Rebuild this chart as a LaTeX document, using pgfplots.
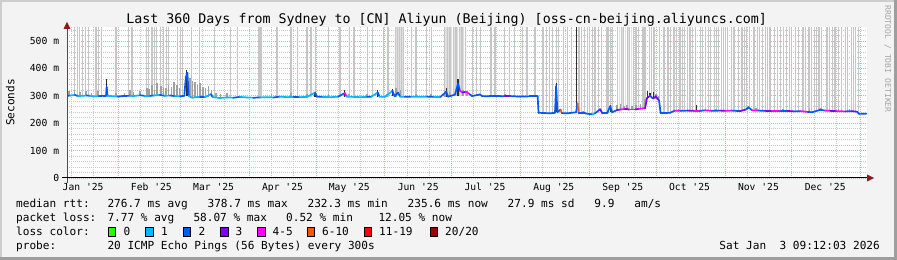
\documentclass[border=0pt]{standalone}
\usepackage{pgfplots}
\pgfplotsset{compat=1.18}
\usepackage{pgfplotstable}
\usepackage{fontspec}
\setmainfont{DejaVu Sans Mono}
\definecolor{bgc}{HTML}{F3F3F3}
\definecolor{brdlight}{HTML}{CDCDCD}
\definecolor{brddark}{HTML}{9E9E9E}
\definecolor{gridc}{HTML}{C8C8C8}
\definecolor{mgridc}{HTML}{F2A0A0}
\definecolor{smokelight}{HTML}{C6C6C6}
\definecolor{smokemid}{HTML}{A0A0A0}
\definecolor{smokedark}{HTML}{303030}
\definecolor{arrowc}{HTML}{8E1B1B}
\definecolor{lc0}{HTML}{26FF00}
\definecolor{lc1}{HTML}{00B8FF}
\definecolor{lc2}{HTML}{0059FF}
\definecolor{lc3}{HTML}{7E00FF}
\definecolor{lc4}{HTML}{FF00FF}
\definecolor{lc5}{HTML}{FF5500}
\definecolor{lc6}{HTML}{FF0000}
\definecolor{lc7}{HTML}{A10000}
\pgfplotsset{colormap={loss}{rgb255=(0,184,255) rgb255=(0,89,255) rgb255=(126,0,255) rgb255=(255,0,255) rgb255=(255,85,0)}}
\newcommand\ticksz{\fontsize{9.7bp}{11bp}\selectfont}
\newcommand\legsz{\fontsize{11.1bp}{13bp}\selectfont}
\newcommand\titlesz{\fontsize{13.3bp}{15bp}\selectfont}
\newcommand\rrdsz{\fontsize{8.1bp}{9bp}\selectfont}

% median rtt (ms) per day since 1 Jan 2025; c = loss class (0:1, 1:2, 2:3, 3:4-5, 4:6-10)
\pgfplotstableread{
x y c
8.1 300 1
9.5 301 0
11.7 303 1
13.0 299 0
15.0 300 0
17.0 301 1
18.4 300 0
20.0 298 0
22.4 299 1
24.5 300 1
25.6 300 1
25.9 332 1
26.3 300 0
28.0 299 0
31.0 297 1
33.0 299 1
36.4 300 0
38.0 299 0
40.9 302 1
43.0 300 0
45.4 300 1
47.0 301 0
49.9 303 1
52.0 300 0
54.4 301 1
56.5 299 0
58.9 298 1
60.8 300 1
61.5 368 1
62.2 384 1
62.8 300 0
64.3 293 0
66.0 295 0
67.9 296 1
70.0 295 0
72.8 306 1
73.6 295 0
76.9 292 0
80.0 294 0
83.0 293 1
85.8 296 0
89.0 294 0
92.0 293 1
94.9 294 0
98.0 295 0
101.0 294 1
103.8 297 0
107.0 295 0
110.0 296 1
112.8 295 0
116.0 296 0
119.6 312 1
120.4 297 1
123.0 296 0
127.0 295 0
130.0 297 1
133.0 310 3
133.8 297 0
137.0 296 0
140.0 295 0
143.0 296 1
145.0 297 0
147.8 312 1
148.6 297 0
151.0 296 0
154.4 318 1
155.4 298 1
156.9 312 1
157.8 297 0
160.0 296 1
163.0 297 0
166.8 296 0
170.0 297 1
173.0 296 0
176.0 296 1
178.6 315 1
179.4 297 1
182.5 304 1
183.9 345 1
184.8 318 3
186.0 312 2
187.5 315 3
189.3 305 1
190.2 299 1
193.8 305 1
194.7 299 1
198.0 298 1
202.8 298 1
205.0 299 2
207.3 299 1
211.8 297 1
216.0 298 1
219.7 298 1
220.1 238 1
223.0 237 1
225.3 236 1
227.5 238 1
228.0 335 1
228.6 240 1
230.0 250 4
230.5 237 1
233.0 236 1
237.0 240 1
237.6 272 4
238.2 236 1
241.0 236 1
244.5 232 0
245.5 236 1
247.8 251 2
248.7 237 1
251.0 237 1
252.3 262 1
253.2 240 1
255.4 248 2
257.0 250 3
259.0 252 2
261.0 250 3
263.5 250 2
265.0 252 3
268.0 255 2
268.9 292 2
270.2 300 1
271.6 290 2
272.9 298 2
274.3 282 1
275.0 237 1
277.0 237 1
279.2 238 1
281.5 246 3
284.0 245 1
287.0 246 2
290.0 245 3
292.7 245 1
295.0 247 3
298.0 245 1
301.7 246 2
304.0 245 3
307.0 246 1
310.7 244 2
313.4 250 1
314.5 258 1
316.1 247 3
319.0 246 1
322.0 245 2
325.0 244 3
328.7 244 1
332.0 245 2
335.0 243 1
338.0 244 3
341.3 241 1
343.1 240 1
346.8 249 1
349.0 246 3
351.3 245 2
354.0 244 3
358.0 243 1
361.0 244 2
363.3 242 1
364.2 234 1
367.8 235 1
}\median

% pings beyond the top of the graph: from median (lo) up
\pgfplotstableread{
x lo
11.4 300
12.6 300
13.7 300
15.1 300
16.5 300
17.7 300
21.1 300
22.3 300
23.5 300
30.1 298
35.9 300
37.3 300
43.9 300
44.8 300
46.3 300
47.4 300
48.5 300
50.2 300
51.4 300
52.6 300
53.7 300
57.9 299
58.9 299
59.8 300
64.1 294
67.6 296
74.2 295
81.4 294
84.9 294
94.4 294
95.3 294
102.5 295
108.8 296
111.8 296
116.0 296
117.8 296
119.9 297
125.7 296
130.8 297
134.9 296
137.1 296
143.0 296
145.4 297
150.2 296
152.4 296
155.9 298
156.7 298
157.6 298
158.5 297
159.4 297
162.8 296
165.0 296
169.8 297
171.8 297
178.0 297
179.0 297
180.3 297
181.7 300
183.0 300
184.4 300
185.7 300
187.3 300
190.6 299
192.4 299
194.2 299
198.7 298
200.5 298
204.6 298
206.9 299
209.3 298
212.7 297
214.9 298
218.5 298
222.1 237
223.5 237
225.0 236
226.5 237
228.0 240
229.1 240
231.4 237
233.0 236
235.0 236
238.3 236
239.4 236
240.6 236
242.0 236
243.0 236
244.2 236
245.5 236
246.9 237
248.6 237
250.9 237
251.5 237
252.3 240
253.5 240
255.8 250
257.2 250
258.5 252
259.9 250
261.2 250
262.6 250
263.5 250
264.3 251
265.1 252
266.7 253
267.5 254
268.2 256
269.8 300
270.8 296
272.0 298
274.3 282
276.5 237
277.9 238
278.6 238
279.3 238
280.6 245
281.4 246
282.2 246
283.7 245
284.8 245
285.9 246
287.0 246
288.2 246
289.4 245
290.5 245
292.9 245
294.0 246
295.2 247
296.4 246
297.6 246
299.2 245
300.2 246
301.1 246
302.3 246
303.4 245
304.2 245
305.1 246
306.9 246
308.0 246
310.0 245
311.6 245
312.7 246
313.8 250
315.0 250
317.0 247
318.4 246
319.6 246
320.8 246
322.0 245
323.0 245
324.2 244
326.0 244
327.5 244
328.9 244
330.1 244
331.5 244
332.8 245
334.0 244
335.8 243
337.1 244
338.6 244
339.4 244
340.2 242
341.7 241
342.8 241
344.0 244
345.1 246
346.2 249
347.5 248
349.8 246
351.0 245
352.2 245
353.4 244
355.0 244
356.5 244
358.0 243
359.2 243
360.9 244
361.8 244
362.7 242
364.0 236
}\spikes

% wider light bands of lost/slow pings
\pgfplotstableread{
x lo
156.2 298
157.1 298
158.0 297
158.9 297
178.5 297
179.5 297
180.8 297
182.3 300
183.6 300
184.9 300
186.4 300
256.5 250
257.8 250
259.2 252
260.5 250
261.9 250
}\bands

% grey smoke near the median
\pgfplotstableread{
x lo hi
9.0 300 318
11.5 300 322
14.0 300 315
16.5 300 318
19.0 300 312
22.0 300 316
30.0 298 310
34.0 299 312
36.4 300 322
38.0 299 315
41.0 300 318
44.0 300 330
45.0 300 325
46.3 300 338
47.4 300 322
48.5 300 345
50.2 300 335
51.4 300 330
52.6 300 328
53.7 300 340
55.0 300 332
56.3 300 350
57.4 300 338
58.6 300 328
63.5 294 365
64.5 294 355
65.6 294 350
66.8 294 338
68.0 295 345
69.2 295 332
70.4 295 328
71.6 295 335
73.0 295 320
75.0 293 312
77.0 292 308
80.0 294 310
100.0 294 305
108.8 295 310
116.0 296 305
125.7 296 306
134.9 296 306
143.0 296 305
152.0 297 308
156.0 297 330
158.0 297 322
165.0 296 305
171.8 296 306
178.0 297 318
180.0 297 315
186.0 300 322
188.0 300 318
193.0 299 306
205.0 298 305
240.0 236 245
255.5 248 265
257.0 249 270
258.5 250 262
260.0 250 268
262.0 250 264
264.0 250 266
266.0 251 270
268.0 253 290
272.9 290 306
274.0 280 300
283.0 245 252
300.0 246 252
314.5 250 262
318.0 246 254
330.0 244 252
342.0 242 250
347.0 246 256
355.0 244 252
360.0 243 253
}\smoke

% dark smoke
\pgfplotstableread{
x lo hi
25.8 300 361
61.6 300 394
62.2 300 388
119.6 297 315
133.0 297 321
147.8 297 321
154.4 298 325
178.6 297 328
183.9 298 362
228.0 240 347
237.2 240 560
252.3 240 268
269.0 292 318
270.2 295 312
271.6 290 314
291.0 245 266
}\dark

\begin{document}
\begin{tikzpicture}
\useasboundingbox (0,0) rectangle (897bp,260bp);
\fill[bgc] (0,0) rectangle (897bp,260bp);
\fill[brdlight] (0,258bp) rectangle (897bp,260bp);
\fill[brdlight] (0,0) rectangle (2bp,260bp);
\fill[brddark] (0,0) rectangle (897bp,3bp);
\fill[brddark] (894bp,0) rectangle (897bp,260bp);

\begin{axis}[
  at={(67bp,82bp)}, anchor=south west, scale only axis,
  width=800bp, height=150.7bp,
  xmin=8.06, xmax=367.8, ymin=0, ymax=550,
  no markers,
  axis line style={draw=none},
  tick style={draw=none},
  major tick length=0pt, minor tick length=0pt,
  axis background/.style={fill=white},
  xtick={15.3,46,74,105,135,166,196,227,258,288,319,349},
  xticklabels={Jan \textquotesingle25,Feb \textquotesingle25,Mar \textquotesingle25,Apr \textquotesingle25,May \textquotesingle25,Jun \textquotesingle25,Jul \textquotesingle25,Aug \textquotesingle25,Sep \textquotesingle25,Oct \textquotesingle25,Nov \textquotesingle25,Dec \textquotesingle25},
  minor xtick={10,20,41,51,69,79,100,110,130,140,161,171,191,201,222,232,253,263,283,293,314,324,344,354},
  extra x ticks={31,59,90,120,151,181,212,243,273,304,334,365},
  extra x tick labels={},
  extra x tick style={xmajorgrids=true},
  xmajorgrids=false, xminorgrids=true,
  ytick={0,100,200,300,400,500},
  yticklabels={0,100 m,200 m,300 m,400 m,500 m},
  minor ytick={20,40,60,80,120,140,160,180,220,240,260,280,320,340,360,380,420,440,460,480,520,540},
  ymajorgrids=true, yminorgrids=true,
  major grid style={color=mgridc, line width=0.8bp, dash pattern=on 1bp off 1bp},
  minor grid style={color=gridc, line width=0.8bp, dash pattern=on 1bp off 1bp},
  x tick label style={font=\ticksz, anchor=base, inner sep=0pt, yshift=-13bp},
  y tick label style={font=\ticksz, anchor=east, inner sep=0pt, xshift=-7.7bp},
  point meta min=0, point meta max=4,
  colormap name=loss,
]
\addplot[draw=none, mark=none, forget plot,
  error bars/.cd, y dir=plus, y explicit, error mark=none,
  error bar style={draw=black!12, line width=1.4bp}]
  table[x=x, y=lo, y error plus expr=560-\thisrow{lo}] {\bands};
\addplot[draw=none, mark=none, forget plot,
  error bars/.cd, y dir=plus, y explicit, error mark=none,
  error bar style={draw=smokelight, line width=1.1bp}]
  table[x=x, y=lo, y error plus expr=560-\thisrow{lo}] {\spikes};
\addplot[draw=none, mark=none, forget plot,
  error bars/.cd, y dir=plus, y explicit, error mark=none,
  error bar style={draw=smokemid, line width=1.6bp}]
  table[x=x, y=lo, y error plus expr=\thisrow{hi}-\thisrow{lo}] {\smoke};
\addplot[draw=none, mark=none, forget plot,
  error bars/.cd, y dir=plus, y explicit, error mark=none,
  error bar style={draw=smokedark, line width=1.1bp}]
  table[x=x, y=lo, y error plus expr=\thisrow{hi}-\thisrow{lo}] {\dark};
\addplot[mesh, shader=flat corner, point meta=explicit, line width=1.7bp, line cap=round, line join=round]
  table[x=x, y=y, meta=c] {\median};
\end{axis}

% axis lines and arrows
\draw[black!70, line width=1bp] (67bp,77bp) -- (67bp,232bp);
\fill[arrowc] (63.5bp,231bp) -- (70.5bp,231bp) -- (67bp,238bp) -- cycle;
\draw[black, line width=1bp] (62bp,82bp) -- (868bp,82bp);
\fill[arrowc] (867bp,78.5bp) -- (867bp,85.5bp) -- (874bp,82bp) -- cycle;

% titles
\node[anchor=base, inner sep=0pt, font=\titlesz] at (446.7bp,236.5bp) {Last 360 Days from Sydney to [CN] Aliyun (Beijing) [oss-cn-beijing.aliyuncs.com]};
\node[anchor=base, inner sep=0pt, rotate=90, font=\legsz] at (14.3bp,157.5bp) {Seconds};
\node[anchor=base, inner sep=0pt, rotate=-90, font=\rrdsz, text=black!35] at (885bp,201bp) {RRDTOOL / TOBI OETIKER};

% legend
\begin{scope}[every node/.style={anchor=base west, inner sep=0pt, font=\legsz}]
\node at (16bp,52.7bp) {median rtt:};
\node at (107.3bp,52.7bp) {276.7 ms avg};
\node at (207.4bp,52.7bp) {378.7 ms max};
\node at (307.4bp,52.7bp) {232.3 ms min};
\node at (407.5bp,52.7bp) {235.6 ms now};
\node at (507.5bp,52.7bp) {27.9 ms sd};
\node at (594.2bp,52.7bp) {9.9};
\node at (634.2bp,52.7bp) {am/s};
\node at (16bp,38.8bp) {packet loss:};
\node at (107.3bp,38.8bp) {7.77 \% avg};
\node at (193.3bp,38.8bp) {58.07 \% max};
\node at (286bp,38.8bp) {0.52 \% min};
\node at (378.3bp,38.8bp) {12.05 \% now};
\node at (16bp,24.9bp) {loss color:};
\node at (123.3bp,24.9bp) {0};
\node at (161bp,24.9bp) {1};
\node at (198.3bp,24.9bp) {2};
\node at (235.5bp,24.9bp) {3};
\node at (272.5bp,24.9bp) {4-5};
\node at (322bp,24.9bp) {6-10};
\node at (379bp,24.9bp) {11-19};
\node at (445bp,24.9bp) {20/20};
\node at (16bp,11bp) {probe:};
\node at (107.3bp,11bp) {20 ICMP Echo Pings (56 Bytes) every 300s};
\node[anchor=base east] at (880bp,11bp) {Sat Jan\ \ 3 09:12:03 2026};
\end{scope}
\foreach \bx/\bc in {108.3/lc0,145.7/lc1,183.3/lc2,220.7/lc3,257.7/lc4,307.3/lc5,364.3/lc6,430/lc7}{
  \filldraw[fill=\bc, draw=black, line width=0.8bp] (\bx bp,23.8bp) rectangle ++(7.5bp,8.5bp);
}
\end{tikzpicture}
\end{document}
